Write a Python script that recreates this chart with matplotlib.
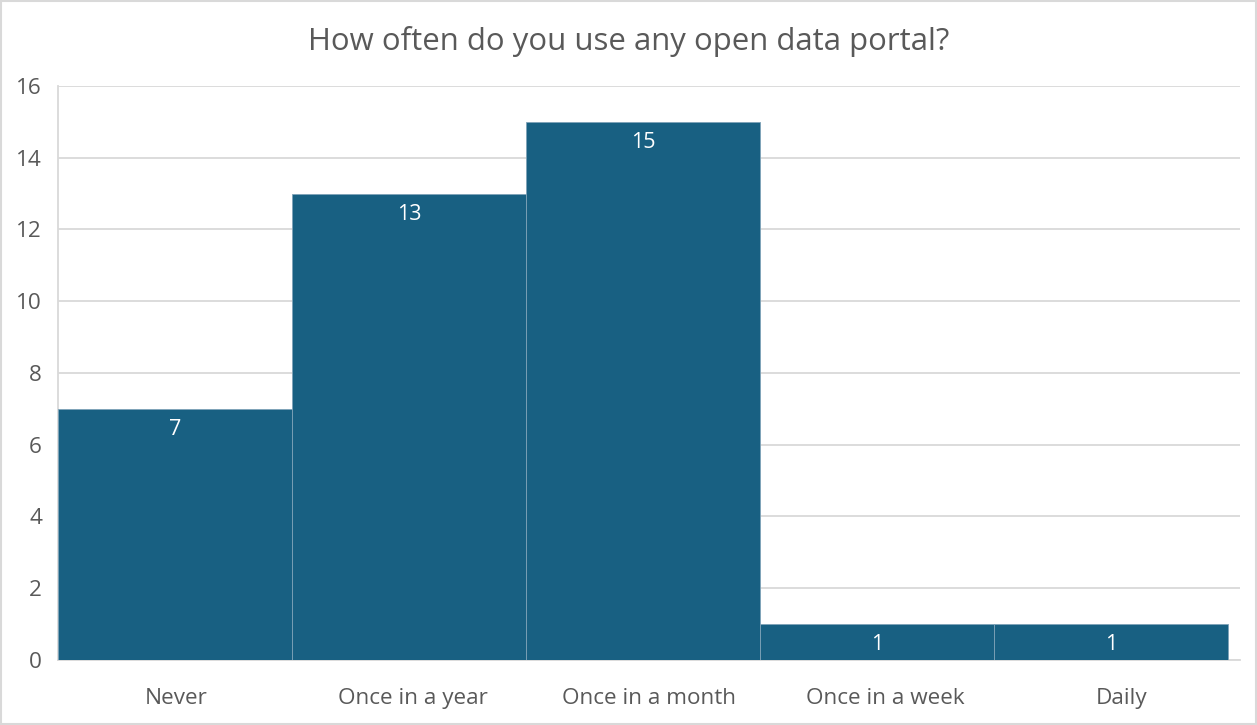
import matplotlib.pyplot as plt
from matplotlib.patches import Rectangle

categories = ["Never", "Once in a year", "Once in a month", "Once in a week", "Daily"]
counts = [7, 13, 15, 1, 1]
y_ticks = [0, 2, 4, 6, 8, 10, 12, 14, 16]

bar_color = "#186082"
text_color = "#595959"
grid_color = "#D9D9D9"
bar_w = 0.99

plt.rcParams["font.family"] = ["Open Sans", "DejaVu Sans"]

fig = plt.figure(figsize=(12.57, 7.25), dpi=100)
ax = fig.add_axes([0.0461, 0.0897, 0.9404, 0.7917])

x = list(range(len(categories)))
lefts = [-0.5 + i * bar_w for i in x]
bars = ax.bar(lefts, counts, width=bar_w, align="edge",
              color=bar_color, edgecolor="#7FA3B8", linewidth=0.6, zorder=3)

for b, v in zip(bars, counts):
    ax.text(b.get_x() + b.get_width() / 2, v - 0.28, str(v),
            ha="center", va="top", color="white", fontsize=15.5, zorder=4)

ax.set_xlim(-0.5, len(categories) - 0.5)
ax.set_ylim(0, 16)
ax.set_yticks(y_ticks)
ax.set_xticks(x)
ax.set_xticklabels(categories)
ax.tick_params(axis="both", length=0, colors=text_color, labelsize=16.2)
ax.tick_params(axis="x", pad=20)
ax.tick_params(axis="y", pad=11.5)

ax.yaxis.grid(True, color=grid_color, linewidth=1.3, zorder=0)
ax.set_axisbelow(True)
for side in ["top", "right"]:
    ax.spines[side].set_visible(False)
for side in ["left", "bottom"]:
    ax.spines[side].set_color(grid_color)
    ax.spines[side].set_linewidth(1.3)

fig.text(0.5, 0.943, "How often do you use any open data portal?",
         ha="center", va="center", fontsize=22.4, color=text_color)

# light frame round the whole chart
fig.patches.append(Rectangle((0.001, 0.001), 0.998, 0.997, transform=fig.transFigure,
                             fill=False, edgecolor=grid_color, linewidth=1.5))

fig.savefig("out.png", dpi=100)
